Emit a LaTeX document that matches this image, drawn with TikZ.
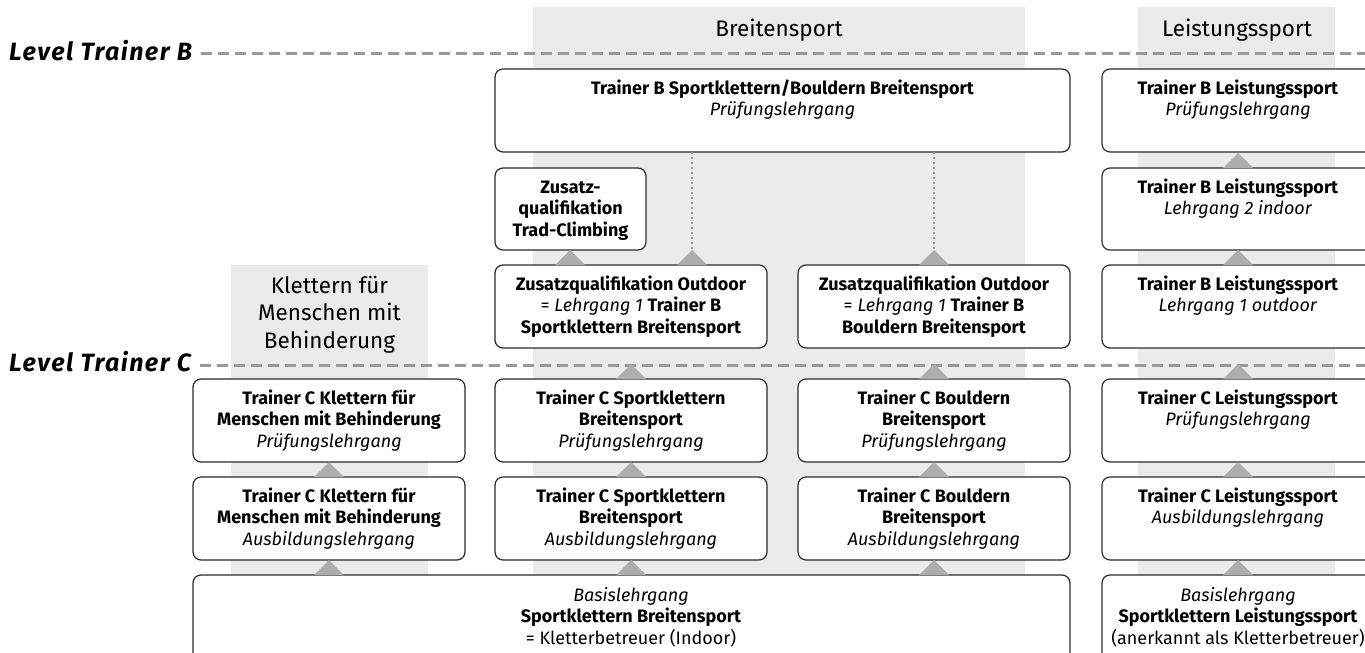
\documentclass[tikz,border=0pt]{standalone}
\usepackage{fontspec}
\setmainfont{Fira Sans}
\newfontfamily\lvlfont{Fira Sans}[LetterSpace=6]
\definecolor{colbg}{HTML}{EBEBEB}
\definecolor{dashc}{HTML}{999999}
\definecolor{tric}{HTML}{ADADAD}
\definecolor{edgec}{HTML}{2A2A2A}
\newcommand\bxt[1]{\begin{tabular}[t]{@{}c@{}}#1\end{tabular}}
\newcommand\uptri[1]{\fill[tric] ([xshift=-15pt]#1) -- ([yshift=15pt]#1) -- ([xshift=15pt]#1) -- cycle;}
\tikzset{
  boxn/.style={draw=edgec, line width=1.2pt, rounded corners=8pt, fill=white,
    minimum width=272pt, minimum height=83pt, anchor=north west, inner sep=0pt, outer sep=0pt},
  txt/.style={font=\fontsize{18}{21.5}\selectfont, inner sep=0pt, anchor=base},
  hdr/.style={font=\fontsize{22.5}{27.5}\selectfont, inner sep=0pt, anchor=base},
  lvl/.style={font=\fontsize{25}{30}\selectfont\lvlfont\bfseries\itshape, inner sep=0pt, anchor=base west},
  levelline/.style={draw=dashc, line width=3pt, dash pattern=on 11pt off 6pt},
  dotline/.style={draw=dashc, line width=2pt, dash pattern=on 2pt off 3pt},
  bgcol/.style={fill=colbg, draw=none}
}
\begin{document}
\begin{tikzpicture}[x=1pt,y=-1pt]
\useasboundingbox (0,0) rectangle (1365,653);
\clip (0,0) rectangle (1365,653);
% background columns
\fill[bgcol] (533,7) rectangle (1025,660);
\fill[bgcol] (1138,7) rectangle (1335,660);
\fill[bgcol] (231,265) rectangle (428,660);
% headers
\node[hdr] (hbreit) at (779,36) {Breitensport};
\node[hdr] (hleist) at (1237,36) {Leistungssport};
\node[hdr] (hkmb) at (329.5,293) {\bxt{Klettern für\\Menschen mit\\Behinderung}};
% level lines
\node[lvl] (lvlB) at (9,60) {Level Trainer B};
\node[lvl] (lvlC) at (9,371) {Level Trainer C};
\coordinate (lBend) at (1365,53);
\coordinate (lCend) at (1365,365);
\draw[levelline] ([xshift=9pt]lvlB.east |- lBend) -- (lBend);
\draw[levelline] ([xshift=9pt]lvlC.east |- lCend) -- (lCend);
% Breitensport boxes
\node[boxn, minimum width=575pt] (tbB) at (495,69) {};
\node[boxn, minimum width=151pt, minimum height=82pt] (trad) at (495,168) {};
\node[boxn] (zqsk) at (495,265) {};
\node[boxn] (zqb) at (798,265) {};
\node[boxn] (kp) at (193,379) {};
\node[boxn] (skp) at (495,379) {};
\node[boxn] (bp) at (798,379) {};
\node[boxn] (ka) at (193,477) {};
\node[boxn] (ska) at (495,477) {};
\node[boxn] (ba) at (798,477) {};
\node[boxn, minimum width=877pt, minimum height=120pt] (basisB) at (193,575) {};
% Leistungssport boxes
\node[boxn] (r1) at (1102,69) {};
\node[boxn, minimum height=82pt] (r2) at (1102,168) {};
\node[boxn] (r3) at (1102,265) {};
\node[boxn] (r4) at (1102,379) {};
\node[boxn] (r5) at (1102,477) {};
\node[boxn, minimum height=120pt] (r6) at (1102,575) {};
% texts
\node[txt] (tbBt) at ([yshift=-25pt]tbB.north) {\bxt{\textbf{Trainer B Sportklettern/Bouldern Breitensport}\\\textit{Prüfungslehrgang}}};
\node[txt] (tradt) at ([yshift=-25pt]trad.north) {\bxt{\textbf{Zusatz-}\\\textbf{qualifikation}\\\textbf{Trad-Climbing}}};
\node[txt] (zqskt) at ([yshift=-25pt]zqsk.north) {\bxt{\textbf{Zusatzqualifikation Outdoor}\\= \textit{Lehrgang 1} \textbf{Trainer B}\\\textbf{Sportklettern Breitensport}}};
\node[txt] (zqbt) at ([yshift=-25pt]zqb.north) {\bxt{\textbf{Zusatzqualifikation Outdoor}\\= \textit{Lehrgang 1} \textbf{Trainer B}\\\textbf{Bouldern Breitensport}}};
\node[txt] (kpt) at ([yshift=-25pt]kp.north) {\bxt{\textbf{Trainer C Klettern für}\\\textbf{Menschen mit Behinderung}\\\textit{Prüfungslehrgang}}};
\node[txt] (skpt) at ([yshift=-25pt]skp.north) {\bxt{\textbf{Trainer C Sportklettern}\\\textbf{Breitensport}\\\textit{Prüfungslehrgang}}};
\node[txt] (bpt) at ([yshift=-25pt]bp.north) {\bxt{\textbf{Trainer C Bouldern}\\\textbf{Breitensport}\\\textit{Prüfungslehrgang}}};
\node[txt] (kat) at ([yshift=-25pt]ka.north) {\bxt{\textbf{Trainer C Klettern für}\\\textbf{Menschen mit Behinderung}\\\textit{Ausbildungslehrgang}}};
\node[txt] (skat) at ([yshift=-25pt]ska.north) {\bxt{\textbf{Trainer C Sportklettern}\\\textbf{Breitensport}\\\textit{Ausbildungslehrgang}}};
\node[txt] (bat) at ([yshift=-25pt]ba.north) {\bxt{\textbf{Trainer C Bouldern}\\\textbf{Breitensport}\\\textit{Ausbildungslehrgang}}};
\node[txt] (basisBt) at ([yshift=-26pt]skp.north |- basisB.north) {\bxt{\textit{Basislehrgang}\\\textbf{Sportklettern Breitensport}\\= Kletterbetreuer (Indoor)}};
\node[txt] (r1t) at ([yshift=-25pt]r1.north) {\bxt{\textbf{Trainer B Leistungssport}\\\textit{Prüfungslehrgang}}};
\node[txt] (r2t) at ([yshift=-25pt]r2.north) {\bxt{\textbf{Trainer B Leistungssport}\\\textit{Lehrgang 2 indoor}}};
\node[txt] (r3t) at ([yshift=-25pt]r3.north) {\bxt{\textbf{Trainer B Leistungssport}\\\textit{Lehrgang 1 outdoor}}};
\node[txt] (r4t) at ([yshift=-25pt]r4.north) {\bxt{\textbf{Trainer C Leistungssport}\\\textit{Prüfungslehrgang}}};
\node[txt] (r5t) at ([yshift=-25pt]r5.north) {\bxt{\textbf{Trainer C Leistungssport}\\\textit{Ausbildungslehrgang}}};
\node[txt] (r6t) at ([yshift=-26pt]r6.north) {\bxt{\textit{Basislehrgang}\\\textbf{Sportklettern Leistungssport}\\(anerkannt als Kletterbetreuer)}};
% connector coordinates
\coordinate (cTrad) at ([xshift=75pt]zqsk.north west);
\coordinate (cTB) at ([xshift=197pt]zqsk.north west);
\coordinate (cK6) at (ka.north |- basisB.north);
\coordinate (cSK6) at (ska.north |- basisB.north);
\coordinate (cB6) at (ba.north |- basisB.north);
% dotted connectors
\draw[dotline] (tbB.south -| cTB) -- ([yshift=15pt]cTB);
\draw[dotline] (tbB.south -| zqb.north) -- ([yshift=15pt]zqb.north);
% triangles
\uptri{cTrad}
\uptri{cTB}
\uptri{zqb.north}
\uptri{skp.north}
\uptri{bp.north}
\uptri{ka.north}
\uptri{ska.north}
\uptri{ba.north}
\uptri{cK6}
\uptri{cSK6}
\uptri{cB6}
\uptri{r2.north}
\uptri{r3.north}
\uptri{r4.north}
\uptri{r5.north}
\uptri{r6.north}
\end{tikzpicture}
\end{document}
